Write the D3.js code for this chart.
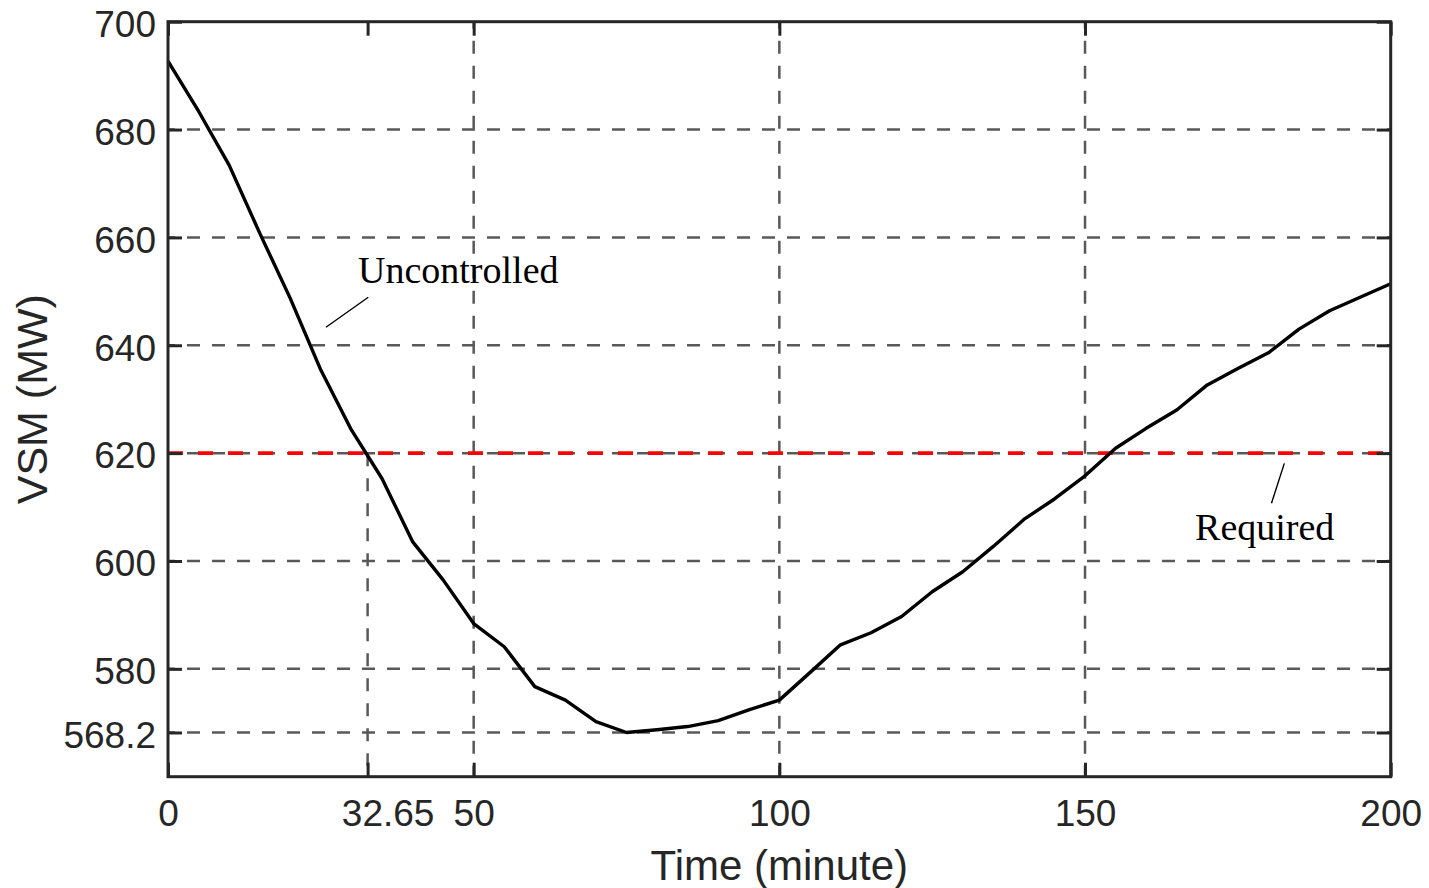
<!DOCTYPE html>
<html>
<head>
<meta charset="utf-8">
<script src="https://cdn.jsdelivr.net/npm/d3@7/dist/d3.min.js"></script>
<style>
  html, body { margin: 0; padding: 0; background: #fff; }
  svg { display: block; }
</style>
</head>
<body>
<svg id="chart" width="1429" height="888"></svg>
<script>
// ---- data ----
const timeMin = [0,5,10,15,20,25,30,35,40,45,50,55,60,65,70,75,80,85,90,95,100,
                 105,110,115,120,125,130,135,140,145,150,155,160,165,170,175,180,185,190,195,200];
const vsmMW   = [692.7,683.4,673.4,660.8,648.7,635.4,624.3,615.3,603.6,596.5,588.4,584.1,576.7,574.2,570.2,568.2,
                 568.7,569.3,570.4,572.4,574.2,579.3,584.45,586.7,589.7,594.3,598.0,602.7,607.7,611.5,615.8,
                 620.9,624.6,628.0,632.65,635.7,638.6,643.0,646.4,648.9,651.4];
const requiredVSM = 620;
const xTicks = [0, 32.65, 50, 100, 150, 200];
const xTickLabels = ["0", "32.65", "50", "100", "150", "200"];
const yTicks = [568.2, 580, 600, 620, 640, 660, 680, 700];
const yTickLabels = ["568.2", "580", "600", "620", "640", "660", "680", "700"];
const xGridFull = [50, 100, 150];
const xGridPartial = [32.65];          // drawn from the 620 crossing down
const yGrid = [568.2, 580, 600, 620, 640, 660, 680];
const xDomain = [0, 200];
const yDomain = [560, 700];

// ---- layout ----
const W = 1429, H = 888;
const m = { left: 168, top: 21.7, right: 38.3, bottom: 111.3 };
const iw = W - m.left - m.right, ih = H - m.top - m.bottom;

const svg = d3.select("#chart");
const g = svg.append("g").attr("transform", `translate(${m.left},${m.top})`);

const x = d3.scaleLinear().domain(xDomain).range([0, iw]);
const y = d3.scaleLinear().domain(yDomain).range([ih, 0]);

const axisColor = "#262626";
const gridColor = "#595959";
const tickFont = "'Liberation Sans', Arial, sans-serif";

// grid
const grid = g.append("g").attr("class", "grid")
  .attr("stroke", gridColor).attr("stroke-width", 2.5)
  .attr("stroke-dasharray", "13 12").attr("fill", "none");
grid.selectAll("line.h").data(yGrid).join("line").attr("class", "h")
  .attr("x1", 0).attr("x2", iw).attr("y1", d => y(d)).attr("y2", d => y(d))
  .attr("stroke-dashoffset", 6);
grid.selectAll("line.vf").data(xGridFull).join("line").attr("class", "vf")
  .attr("x1", d => x(d)).attr("x2", d => x(d)).attr("y1", 0).attr("y2", ih)
  .attr("stroke-dashoffset", 6);
grid.selectAll("line.vp").data(xGridPartial).join("line").attr("class", "vp")
  .attr("x1", d => x(d)).attr("x2", d => x(d)).attr("y1", y(requiredVSM)).attr("y2", ih);

// required line
g.append("line")
  .attr("x1", x(xDomain[0])).attr("x2", x(xDomain[1]))
  .attr("y1", y(requiredVSM)).attr("y2", y(requiredVSM))
  .attr("stroke", "#ff0000").attr("stroke-width", 3.6)
  .attr("stroke-dasharray", "15 15");

// curve
const line = d3.line().x((d, i) => x(timeMin[i])).y(d => y(d));
g.append("path").datum(vsmMW)
  .attr("d", line).attr("fill", "none")
  .attr("stroke", "#000").attr("stroke-width", 3.4).attr("stroke-linejoin", "round");

// axes
function styleAxis(sel) {
  sel.select(".domain").remove();
  sel.selectAll(".tick line").attr("stroke", axisColor).attr("stroke-width", 3);
  sel.selectAll(".tick text").attr("fill", axisColor)
    .style("font-family", tickFont).style("font-size", "37px");
}
const tickLen = 14;
const bottomAxis = d3.axisBottom(x).tickValues(xTicks)
  .tickFormat((d, i) => xTickLabels[i]).tickSize(-tickLen).tickPadding(23);
const gb = g.append("g").attr("transform", `translate(0,${ih})`).call(bottomAxis).call(styleAxis);
gb.selectAll(".tick text").filter(d => d === 32.65).attr("dx", 20);

const topAxis = d3.axisTop(x).tickValues(xTicks).tickFormat("").tickSize(-tickLen);
g.append("g").call(topAxis).call(styleAxis);

const leftAxis = d3.axisLeft(y).tickValues(yTicks)
  .tickFormat((d, i) => yTickLabels[i]).tickSize(-tickLen).tickPadding(12);
const gl = g.append("g").call(leftAxis).call(styleAxis);
gl.selectAll(".tick text").attr("dy", "0.4em");

const rightAxis = d3.axisRight(y).tickValues(yTicks).tickFormat("").tickSize(-tickLen);
g.append("g").attr("transform", `translate(${iw},0)`).call(rightAxis).call(styleAxis);

// frame
g.append("rect").attr("x", 0).attr("y", 0).attr("width", iw).attr("height", ih)
  .attr("fill", "none").attr("stroke", axisColor).attr("stroke-width", 3);

// axis titles
svg.append("text")
  .attr("x", m.left + iw / 2).attr("y", 880)
  .attr("text-anchor", "middle").attr("fill", axisColor)
  .style("font-family", tickFont).style("font-size", "42px")
  .text("Time (minute)");
svg.append("text")
  .attr("transform", `translate(47,${m.top + y(630)}) rotate(-90)`)
  .attr("text-anchor", "middle").attr("fill", axisColor)
  .style("font-family", tickFont).style("font-size", "43px")
  .text("VSM (MW)");

// annotations (data coordinates)
const annotations = [
  { text: "Uncontrolled", tx: 31.08, tv: 651.56, l1: [32.76, 648.9], l2: [25.84, 643.34] },
  { text: "Required",     tx: 168.0, tv: 603.9,  l1: [182.6, 618.1], l2: [180.5, 610.7] }
];
const ann = g.append("g");
annotations.forEach(a => {
  ann.append("text").attr("x", x(a.tx)).attr("y", y(a.tv))
    .attr("fill", "#000")
    .style("font-family", "'Liberation Serif', 'Times New Roman', serif")
    .style("font-size", "38px")
    .text(a.text);
  ann.append("line")
    .attr("x1", x(a.l1[0])).attr("y1", y(a.l1[1]))
    .attr("x2", x(a.l2[0])).attr("y2", y(a.l2[1]))
    .attr("stroke", "#000").attr("stroke-width", 1.4);
});
</script>
</body>
</html>
